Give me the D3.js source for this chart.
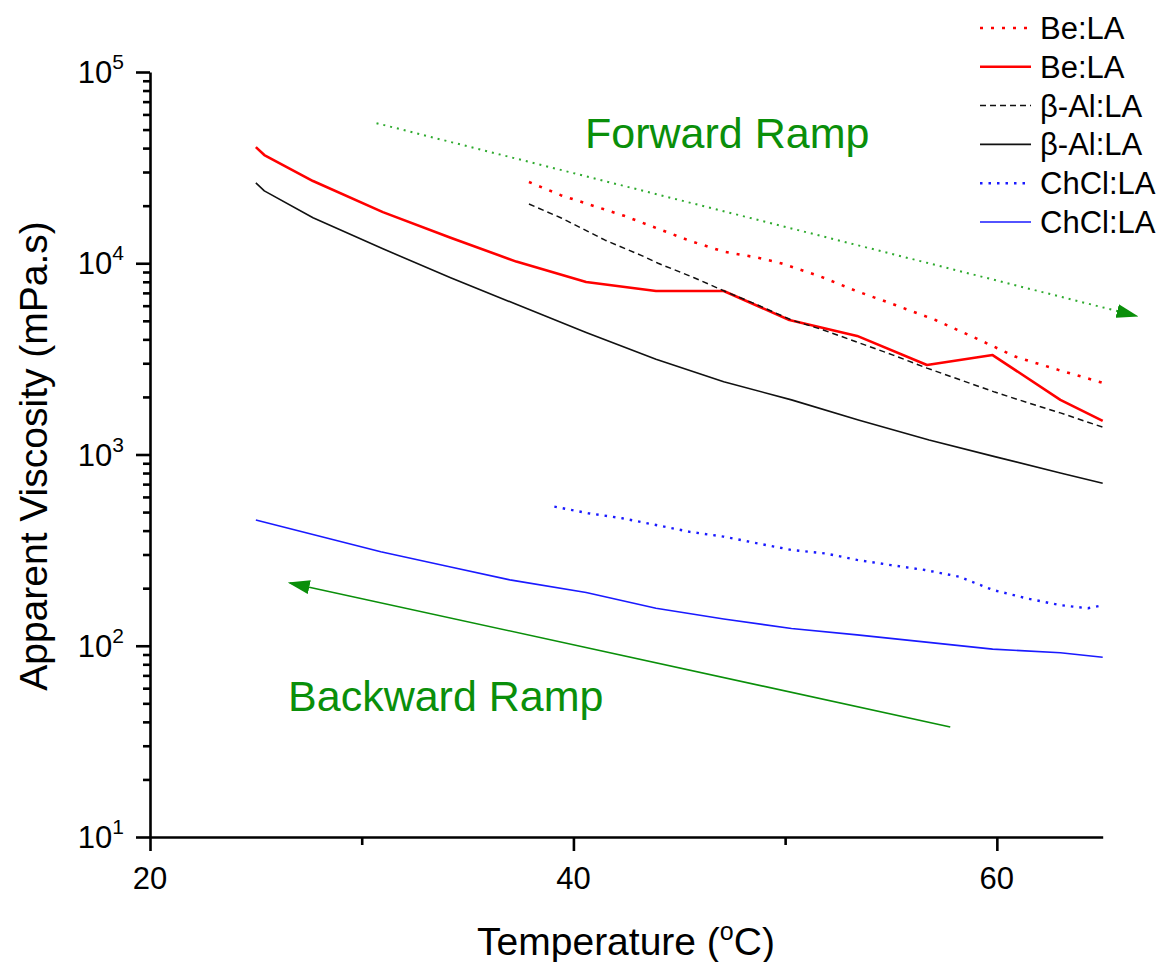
<!DOCTYPE html>
<html>
<head>
<meta charset="utf-8">
<script src="https://cdn.jsdelivr.net/npm/d3@7"></script>
<style>
  body { margin: 0; background: #fff; }
  text { font-family: "Liberation Sans", Arial, sans-serif; }
</style>
</head>
<body>
<div id="chart"></div>
<script>
// data (temperature in degC, viscosity in mPa.s)
var beFwdT = [37.9, 39.4, 40.8, 42.4, 43.9, 45.5, 47.1, 48.7, 49.8, 51.7, 53.3, 55.2, 57.1, 59.0, 60.9, 62.9, 65.0];
var beFwdV = [26600, 22700, 20200, 17700, 15300, 13100, 11500, 10700, 10000, 8500, 7200, 6050, 5050, 4060, 3240, 2770, 2370];

var beBwdT = [25.0, 25.4, 27.7, 31.0, 34.2, 37.3, 40.6, 43.9, 47.1, 50.2, 53.4, 56.7, 59.8, 63.0, 65.0];
var beBwdV = [40500, 36800, 26900, 18500, 13600, 10200, 7980, 7160, 7160, 5050, 4170, 2940, 3310, 1930, 1500];

var alFwdT = [37.9, 39.4, 41.5, 43.2, 44.0, 45.7, 47.2, 48.7, 50.3, 51.8, 53.4, 55.1, 56.7, 58.3, 59.9, 61.5, 63.0, 65.0];
var alFwdV = [20400, 17300, 13200, 11000, 10000, 8400, 7100, 6050, 5050, 4480, 3870, 3310, 2830, 2450, 2120, 1860, 1650, 1390];

var alBwdT = [25.0, 25.4, 27.7, 31.0, 34.2, 37.3, 40.6, 43.9, 47.1, 50.3, 53.5, 56.8, 59.9, 63.0, 65.0];
var alBwdV = [26300, 23900, 17300, 11900, 8400, 6100, 4350, 3150, 2400, 1930, 1510, 1190, 975, 800, 707];

var chFwdT = [39.1, 40.7, 42.3, 43.9, 45.5, 47.1, 48.7, 50.3, 51.9, 53.4, 55.0, 56.6, 58.2, 59.8, 61.4, 63.0, 64.3, 65.0];
var chFwdV = [534, 493, 464, 428, 394, 372, 343, 317, 304, 281, 264, 249, 230, 196, 177, 163, 157, 163];

var chBwdT = [25.0, 30.9, 34.2, 37.0, 40.6, 43.9, 47.1, 50.3, 53.4, 56.1, 59.8, 63.0, 65.0];
var chBwdV = [454, 310, 258, 221, 190, 157, 138, 123, 114, 106, 96, 92, 87];

var legendNames = ["Be:LA", "Be:LA", "β-Al:LA", "β-Al:LA", "ChCl:LA", "ChCl:LA"];

// annotation arrows and labels, in data units
var fwdArrow = [[30.7, 54000], [66.6, 5300]];
var bwdArrow = [[57.8, 37.6], [26.6, 213]];
var fwdLabel = [40.55, 40100];
var bwdLabel = [26.52, 45.6];

var xMajor = [20, 40, 60];
var xMinor = [30, 50];
var yMajor = [10, 100, 1000, 10000, 100000];

var W = 1159, H = 962;
var green = "#0a8f0a";

var svg = d3.select("#chart").append("svg")
  .attr("width", W).attr("height", H);

var x = d3.scaleLinear().domain([20, 65]).range([150, 1102.7]);
var y = d3.scaleLog().domain([10, 100000]).range([837, 72]);

// minor y ticks: 2..9 in every decade
var yMinor = [];
yMajor.slice(0, -1).forEach(function(d) {
  for (var k = 2; k <= 9; k++) yMinor.push(d * k);
});

// axes
var xAxisG = svg.append("g").attr("transform", "translate(0,837)");
xAxisG.call(d3.axisBottom(x).tickValues(xMajor).tickSize(14).tickSizeOuter(0).tickFormat(""));
xAxisG.append("g").call(d3.axisBottom(x).tickValues(xMinor).tickSize(8).tickSizeOuter(0).tickFormat(""))
  .select(".domain").remove();

var yAxisG = svg.append("g").attr("transform", "translate(150,0)");
yAxisG.call(d3.axisLeft(y).tickValues(yMajor).tickSize(14).tickSizeOuter(0).tickFormat(""));
yAxisG.append("g").call(d3.axisLeft(y).tickValues(yMinor).tickSize(7).tickSizeOuter(0).tickFormat(""))
  .select(".domain").remove();

svg.selectAll(".domain").attr("stroke", "#000").attr("stroke-width", 2.6);
svg.selectAll(".tick line").attr("stroke", "#000").attr("stroke-width", 2.6);

// tick labels
svg.selectAll(".xlab").data(xMajor).enter().append("text")
  .attr("x", function(d) { return x(d); })
  .attr("y", 889)
  .attr("text-anchor", "middle")
  .attr("font-size", 31)
  .text(function(d) { return d; });

var ylab = svg.selectAll(".ylab").data(yMajor).enter().append("text")
  .attr("x", 124)
  .attr("y", function(d) { return y(d) + 11; })
  .attr("text-anchor", "end")
  .attr("font-size", 31);
ylab.append("tspan").text("10");
ylab.append("tspan").attr("font-size", 21).attr("dy", -14)
  .text(function(d) { return Math.round(Math.log10(d)); });

// axis titles
var xt = svg.append("text")
  .attr("x", 626).attr("y", 955)
  .attr("text-anchor", "middle")
  .attr("font-size", 39);
xt.append("tspan").text("Temperature (");
xt.append("tspan").attr("font-size", 25).attr("dy", -15).text("o");
xt.append("tspan").attr("dy", 15).text("C)");

svg.append("text")
  .attr("transform", "translate(47,456) rotate(-90)")
  .attr("text-anchor", "middle")
  .attr("font-size", 39)
  .text("Apparent Viscosity (mPa.s)");

// series
var series = [
  {t: beFwdT, v: beFwdV, color: "#ff0000", width: 2.6, dash: "3,8"},
  {t: beBwdT, v: beBwdV, color: "#ff0000", width: 2.6, dash: null},
  {t: alFwdT, v: alFwdV, color: "#111", width: 1.5, dash: "6,4"},
  {t: alBwdT, v: alBwdV, color: "#111", width: 1.6, dash: null},
  {t: chFwdT, v: chFwdV, color: "#1a1aff", width: 2.4, dash: "2.5,6"},
  {t: chBwdT, v: chBwdV, color: "#1a1aff", width: 1.6, dash: null}
];

var line = d3.line()
  .x(function(d) { return x(d[0]); })
  .y(function(d) { return y(d[1]); });

series.forEach(function(s) {
  var pts = s.t.map(function(t, i) { return [t, s.v[i]]; });
  svg.append("path")
    .datum(pts)
    .attr("fill", "none")
    .attr("stroke", s.color)
    .attr("stroke-width", s.width)
    .attr("stroke-dasharray", s.dash)
    .attr("stroke-linejoin", "round")
    .attr("d", line);
});

// arrows
svg.append("defs").append("marker")
  .attr("id", "head")
  .attr("markerUnits", "userSpaceOnUse")
  .attr("markerWidth", 22).attr("markerHeight", 14)
  .attr("refX", 20).attr("refY", 7)
  .attr("orient", "auto")
  .append("path")
    .attr("d", "M0,0 L22,7 L0,14 Z")
    .attr("fill", green);

svg.append("path")
  .datum(fwdArrow)
  .attr("fill", "none")
  .attr("stroke", "#2eaa2e")
  .attr("stroke-width", 2)
  .attr("stroke-dasharray", "2,5")
  .attr("marker-end", "url(#head)")
  .attr("d", line);

svg.append("path")
  .datum(bwdArrow)
  .attr("fill", "none")
  .attr("stroke", green)
  .attr("stroke-width", 1.6)
  .attr("marker-end", "url(#head)")
  .attr("d", line);

svg.append("text")
  .attr("x", x(fwdLabel[0])).attr("y", y(fwdLabel[1]))
  .attr("font-size", 43).attr("fill", green)
  .text("Forward Ramp");

svg.append("text")
  .attr("x", x(bwdLabel[0])).attr("y", y(bwdLabel[1]))
  .attr("font-size", 43).attr("fill", green)
  .text("Backward Ramp");

// legend
var leg = svg.append("g");
var legRows = leg.selectAll("g").data(series).enter().append("g")
  .attr("transform", function(d, i) { return "translate(980," + (28 + i * 38.8) + ")"; });
legRows.append("line")
  .attr("x1", 0).attr("x2", 51)
  .attr("stroke", function(d) { return d.color; })
  .attr("stroke-width", function(d) { return d.width; })
  .attr("stroke-dasharray", function(d) { return d.dash; });
legRows.append("text")
  .attr("x", 60).attr("y", 11)
  .attr("font-size", 31)
  .text(function(d, i) { return legendNames[i]; });
</script>
</body>
</html>
